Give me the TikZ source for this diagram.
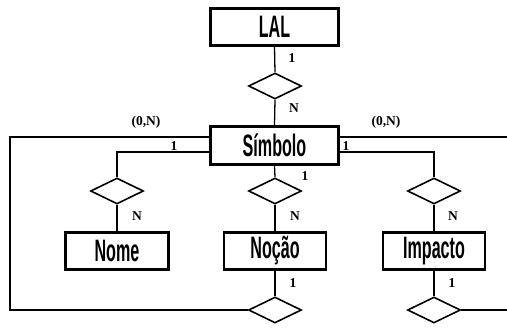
\documentclass[tikz,border=0pt]{standalone}
\usepackage{fontspec}
\setmainfont{Liberation Serif}
\newfontfamily\boxfont[FakeStretch=0.52]{Liberation Sans}
\usetikzlibrary{shapes.geometric}
\begin{document}
\begin{tikzpicture}[x=1pt,y=-1pt,
  entity/.style={draw,line width=2.8pt,inner sep=0pt,minimum height=37pt,
    font=\boxfont\bfseries\fontsize{31}{31}\selectfont},
  rel/.style={draw,diamond,line width=1.6pt,inner sep=0pt,minimum width=53pt,minimum height=26pt},
  conn/.style={line width=1.3pt},
  card/.style={font=\bfseries\fontsize{13.5}{13.5}\selectfont,inner sep=0pt}]
\useasboundingbox (0,0) rectangle (507,329);
% entities
\node[entity,minimum width=128pt] (lal) at (274.5,27) {LAL};
\node[entity,minimum width=128pt,minimum height=38pt] (sim) at (274.5,145.5) {Símbolo};
\node[entity,minimum width=103pt] (nome) at (117,251) {Nome};
\node[entity,minimum width=102pt] (nocao) at (275,251) {Noção};
\node[entity,minimum width=102pt] (imp) at (434,251) {Impacto};
% relationships
\node[rel] (rtop) at (275,86) {};
\node[rel] (rnome) at (117,191) {};
\node[rel] (rnoc) at (275,191) {};
\node[rel] (rimp) at (434,191) {};
\node[rel] (bnoc) at (275,310) {};
\node[rel] (bimp) at (434,310) {};
% free ends
\coordinate (cl) at (10,310);
\coordinate (cr1) at (507,137);
\coordinate (cr2) at (507,310);
% connectors
\draw[conn] (lal.south) -- (rtop.north);
\draw[conn] (rtop.south) -- (sim.north);
\draw[conn] (sim.south) -- (rnoc.north);
\draw[conn] (rnoc.south) -- (nocao.north);
\draw[conn] (rnome.south) -- (nome.north);
\draw[conn] (rimp.south) -- (imp.north);
\draw[conn] (nocao.south) -- (bnoc.north);
\draw[conn] (imp.south) -- (bimp.north);
\draw[conn] ([yshift=-6.5pt]sim.west) -| (rnome.north);
\draw[conn] ([yshift=-6.5pt]sim.east) -| (rimp.north);
\draw[conn] ([yshift=8.5pt]sim.west) -| (cl) -- (bnoc.west);
\draw[conn] ([yshift=8.5pt]sim.east) -- (cr1);
\draw[conn] (bimp.east) -- (cr2);
% cardinalities
\node[card] (c1) at (292,58) {1};
\node[card] (c2) at (294,108) {N};
\node[card] (c3) at (146,122) {(0,N)};
\node[card] (c4) at (386,122) {(0,N)};
\node[card] (c5) at (174,146) {1};
\node[card] (c6) at (346,146) {1};
\node[card] (c7) at (305,176) {1};
\node[card] (c8) at (137,216) {N};
\node[card] (c9) at (295,216) {N};
\node[card] (c10) at (453,216) {N};
\node[card] (c11) at (293,283) {1};
\node[card] (c12) at (452,283) {1};
\end{tikzpicture}
\end{document}
